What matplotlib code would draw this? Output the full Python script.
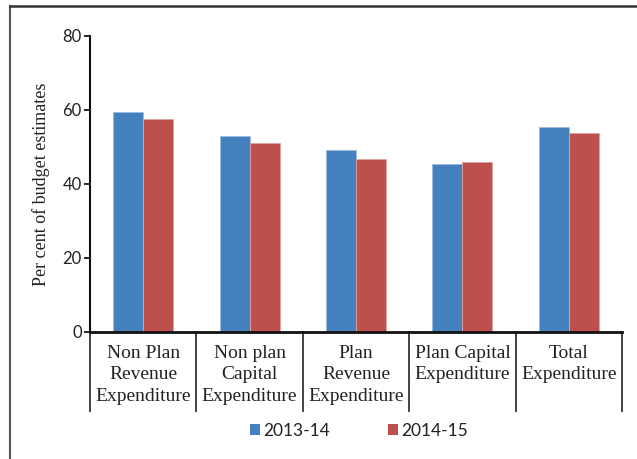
import numpy as np
import matplotlib
matplotlib.use('Agg')
import matplotlib.pyplot as plt
from matplotlib.lines import Line2D
from matplotlib.patches import Patch

# expenditure heads and share of budget estimates spent (per cent)
categories = ['Non Plan\nRevenue\nExpenditure', 'Non plan\nCapital\nExpenditure',
              'Plan\nRevenue\nExpenditure', 'Plan Capital\nExpenditure',
              'Total\nExpenditure']
y2013 = [59.5, 53.1, 49.1, 45.4, 55.4]
y2014 = [57.6, 51.0, 46.7, 45.9, 53.7]
series_names = ['2013-14', '2014-15']
yticks = [0, 20, 40, 60, 80]

blue = '#4580BF'
red = '#BD4F4C'
serif = 'Liberation Serif'
sans = 'Lato'

W, H = 637, 459
fig = plt.figure(figsize=(W / 100, H / 100), dpi=100)
ax = fig.add_axes([90 / W, 1 - 332 / H, (622 - 90) / W, (332 - 36) / H])

x = np.arange(len(categories))
w = 0.282
ax.bar(x - w / 2, y2013, w, color=blue, edgecolor='#9dbbe0', linewidth=0.6)
ax.bar(x + w / 2, y2014, w, color=red, edgecolor='#e0a3a1', linewidth=0.6)

ax.set_xlim(-0.5, len(categories) - 0.5)
ax.set_ylim(0, 80)
ax.set_yticks(yticks)
ax.set_yticklabels([str(v) for v in yticks], fontfamily=sans, fontsize=12, color='#222222')
ax.tick_params(axis='y', direction='out', length=4, width=1.2, pad=2)

ax.set_xticks(x)
ax.set_xticklabels(categories, fontfamily=serif, fontsize=14, color='#222222',
                   linespacing=1.38)
ax.tick_params(axis='x', length=0, pad=9)

for s in ['top', 'right']:
    ax.spines[s].set_visible(False)
ax.spines['left'].set_linewidth(1.5)
ax.spines['bottom'].set_linewidth(2.0)
ax.spines['left'].set_color('#111111')
ax.spines['bottom'].set_color('#111111')

ax.set_ylabel('Per cent of budget estimates', fontfamily=serif, fontsize=13,
              color='#222222', labelpad=9)

# category separators running below the axis
trans = ax.get_xaxis_transform()
drop = (411 - 332) / (332 - 36)
for xs in np.arange(-0.5, len(categories), 1.0):
    ax.plot([xs, xs], [0, -drop], transform=trans, color='#333333',
            linewidth=1.3, clip_on=False)

handles = [Patch(facecolor=blue, edgecolor='none'), Patch(facecolor=red, edgecolor='none')]
fig.legend(handles, series_names, loc='center', bbox_to_anchor=(359 / W, 1 - 431 / H),
           ncol=2, frameon=False, prop={'family': sans, 'size': 12.5},
           handlelength=0.6, handleheight=0.6, handletextpad=0.2,
           columnspacing=3.3, labelcolor='#222222')

# outer frame on left and top
fig.add_artist(Line2D([10 / W, 10 / W], [0, 1 - 6 / H], color='#555555', linewidth=1.5))
fig.add_artist(Line2D([10 / W, 1], [1 - 6 / H, 1 - 6 / H], color='#333333', linewidth=1.8))

fig.savefig('out.png', dpi=100)
